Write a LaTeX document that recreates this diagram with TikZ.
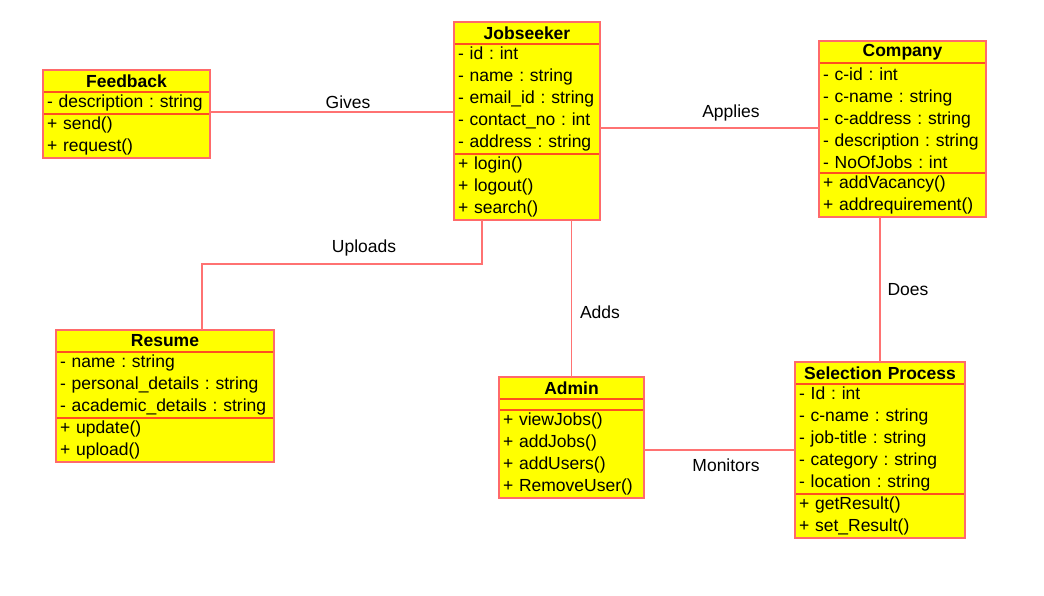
\documentclass[tikz,border=0pt]{standalone}
\usepackage{fontspec}
\setmainfont{Liberation Sans}
\usepackage{tikz}
\usetikzlibrary{positioning}
\frenchspacing
\definecolor{umlyellow}{HTML}{FFFF00}
\definecolor{framered}{HTML}{FF6A6A}
\definecolor{sepred}{HTML}{FF5020}
\definecolor{linkred}{HTML}{FF7272}
\newcommand{\umlfont}{\fontsize{17.5pt}{22pt}\selectfont}
\tikzstyle{head} = [draw=sepred, fill=umlyellow, font=\umlfont\bfseries, align=center, minimum height=22pt, inner xsep=4pt, inner ysep=0pt, outer sep=0pt, line width=1.2pt]
\tikzstyle{part} = [draw=sepred, fill=umlyellow, align=left, inner xsep=4pt, inner ysep=0pt, outer sep=0pt, line width=1.2pt]
\tikzstyle{frame} = [draw=framered, line width=1.3pt]
\tikzstyle{link} = [draw=linkred, line width=1.3pt]

\begin{document}
\begin{tikzpicture}[x=1pt, y=-1pt, font=\umlfont]
    \useasboundingbox (0,0) rectangle (1044,596);

    % Feedback
    \node[head, text width=159pt] (fb-h) at (126.5,81) {Feedback};
    \node[part, text width=159pt, minimum height=22pt, below=0pt of fb-h] (fb-a) {- description : string};
    \node[part, text width=159pt, minimum height=44pt, below=0pt of fb-a] (fb-m) {+ send()\\+ request()};

    % Jobseeker
    \node[head, text width=138pt] (js-h) at (527,33) {Jobseeker};
    \node[part, text width=138pt, minimum height=110pt, below=0pt of js-h] (js-a) {- id : int\\- name : string\\- email\_id : string\\- contact\_no : int\\- address : string};
    \node[part, text width=138pt, minimum height=66pt, below=0pt of js-a] (js-m) {+ login()\\+ logout()\\+ search()};

    % Company
    \node[head, text width=159pt] (co-h) at (902.5,52) {Company};
    \node[part, text width=159pt, minimum height=110pt, below=0pt of co-h] (co-a) {- c-id : int\\- c-name : string\\- c-address : string\\- description : string\\- NoOfJobs : int};
    \node[part, text width=159pt, minimum height=44pt, below=0pt of co-a] (co-m) {+ addVacancy()\\+ addrequirement()};

    % Resume
    \node[head, text width=210pt] (rs-h) at (165,341) {Resume};
    \node[part, text width=210pt, minimum height=66pt, below=0pt of rs-h] (rs-a) {- name : string\\- personal\_details : string\\- academic\_details : string};
    \node[part, text width=210pt, minimum height=44pt, below=0pt of rs-a] (rs-m) {+ update()\\+ upload()};

    % Admin
    \node[head, text width=137pt] (ad-h) at (571.5,388) {Admin};
    \node[part, text width=137pt, minimum height=11pt, below=0pt of ad-h] (ad-a) {};
    \node[part, text width=137pt, minimum height=88pt, below=0pt of ad-a] (ad-m) {+ viewJobs()\\+ addJobs()\\+ addUsers()\\+ RemoveUser()};

    % Selection Process
    \node[head, text width=162pt] (sp-h) at (880,373) {Selection Process};
    \node[part, text width=162pt, minimum height=110pt, below=0pt of sp-h] (sp-a) {- Id : int\\- c-name : string\\- job-title : string\\- category : string\\- location : string};
    \node[part, text width=162pt, minimum height=44pt, below=0pt of sp-a] (sp-m) {+ getResult()\\+ set\_Result()};

    \draw[frame] (fb-h.north west) rectangle (fb-m.south east);
    \draw[frame] (js-h.north west) rectangle (js-m.south east);
    \draw[frame] (co-h.north west) rectangle (co-m.south east);
    \draw[frame] (rs-h.north west) rectangle (rs-m.south east);
    \draw[frame] (ad-h.north west) rectangle (ad-m.south east);
    \draw[frame] (sp-h.north west) rectangle (sp-m.south east);

    % connectors
    \coordinate (bend) at (202,264);
    \draw[link] ([yshift=2pt]fb-a.south east) -- ([yshift=2pt]fb-a.south east -| js-a.west);
    \draw[link] ([yshift=-29pt]js-a.east) -- ([yshift=-29pt]js-a.east -| co-a.west);
    \draw[link] ([xshift=28pt]js-m.south west) |- (bend) -- (bend |- rs-h.north);
    \draw[link] (ad-h.north) -- (ad-h.north |- js-m.south);
    \draw[link] (sp-h.north) -- (sp-h.north |- co-m.south);
    \draw[link] ([yshift=4pt]ad-m.east) -- ([yshift=4pt]ad-m.east -| sp-a.west);

    % labels
    \node (gives) at (348,102) {Gives};
    \node (applies) at (731,113) {Applies};
    \node (uploads) at (364,248) {Uploads};
    \node (adds) at (600,312) {Adds};
    \node (does) at (908,290) {Does};
    \node (monitors) at (726,465) {Monitors};
\end{tikzpicture}
\end{document}
